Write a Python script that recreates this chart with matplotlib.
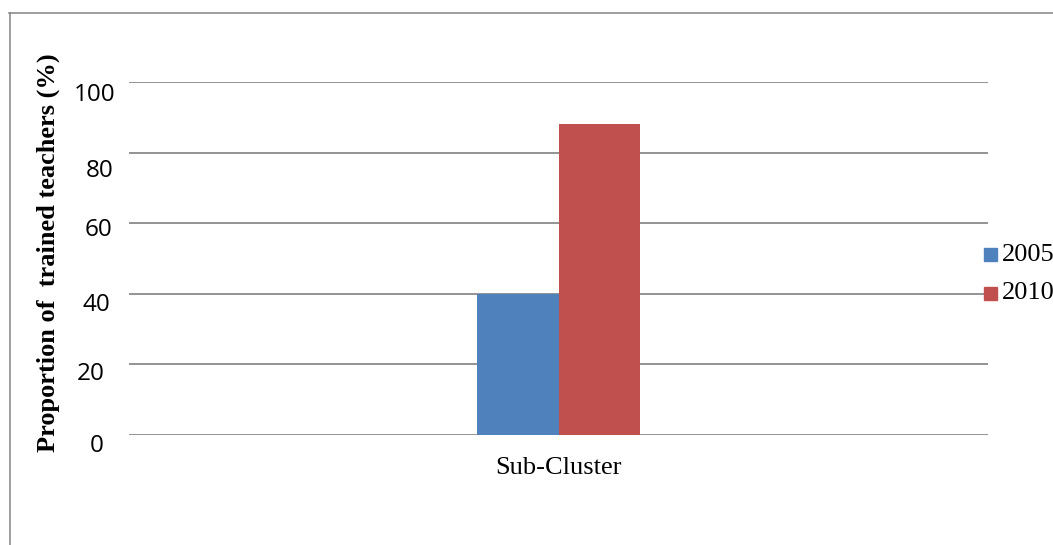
import matplotlib
matplotlib.use("Agg")
import matplotlib.pyplot as plt
import matplotlib.transforms as mtransforms
from matplotlib.lines import Line2D
from matplotlib.patches import Rectangle

categories = ["Sub-Cluster"]
series_names = ["2005", "2010"]
values_2005 = [40]
values_2010 = [88]
colors = ["#4F81BD", "#C0504D"]
yticks = [0, 20, 40, 60, 80, 100]

W, H = 1053, 545
fig = plt.figure(figsize=(W / 100, H / 100), dpi=100)
fig.patch.set_facecolor("white")

def fx(px):
    return px / W

def fy(py):
    return 1 - py / H

ax = fig.add_axes([fx(129), fy(435), fx(988) - fx(129), fy(82) - fy(435)])
ax.set_xlim(-0.5, 0.5)
ax.set_ylim(0, 100)

bw = 0.0945
x = list(range(len(categories)))
for i, (name, vals) in enumerate(zip(series_names, [values_2005, values_2010])):
    xs = [xi + (i - 0.5) * bw for xi in x]
    ax.bar(xs, vals, width=bw, color=colors[i], zorder=3, label=name)

for t in yticks:
    ax.axhline(t, color="#8a8a8a", lw=1.3, zorder=1)

for s in ax.spines.values():
    s.set_visible(False)
ax.tick_params(length=0)
ax.set_yticks(yticks)
ax.set_yticklabels([str(t) for t in yticks], fontsize=17.5, fontfamily="Open Sans", ha="center")
ax.tick_params(axis="y", pad=24)
# per-label pixel shifts (dx, dy) mimicking the reference rendering
shifts = {0: (1, -8), 20: (-5, -7), 40: (1, -8.5), 60: (2.5, -4), 80: (3.5, -15), 100: (-1, -10)}
for t, lab in zip(yticks, ax.get_yticklabels()):
    dx, dy = shifts[t]
    off = mtransforms.ScaledTranslation(dx / 100, dy / 100, fig.dpi_scale_trans)
    lab.set_transform(lab.get_transform() + off)

ax.set_xticks(x)
ax.set_xticklabels(categories, fontsize=19, fontfamily="Liberation Serif")
ax.tick_params(axis="x", pad=15.5)

fig.text(fx(48), fy(252.5), "Proportion of  trained teachers (%)", rotation=90,
         ha="center", va="center", fontsize=19, fontweight="bold",
         fontfamily="Liberation Serif")

# legend (manual)
leg_y = [255, 293]
for i, name in enumerate(series_names):
    fig.patches.append(Rectangle((fx(984), fy(leg_y[i] + 6.5)), fx(13), 13 / H,
                                 transform=fig.transFigure, color=colors[i]))
    fig.text(fx(1002), fy(leg_y[i]), name, ha="left", va="center",
             fontsize=19, fontfamily="Liberation Serif")

# outer frame
fig.add_artist(Line2D([fx(9), 1.0], [fy(12.5), fy(12.5)], color="#8c8c8c", lw=1.2,
                      transform=fig.transFigure))
fig.add_artist(Line2D([fx(9.5), fx(9.5)], [fy(12.5), 0.0], color="#8c8c8c", lw=1.2,
                      transform=fig.transFigure))

fig.savefig("out.png", dpi=100, facecolor="white")
